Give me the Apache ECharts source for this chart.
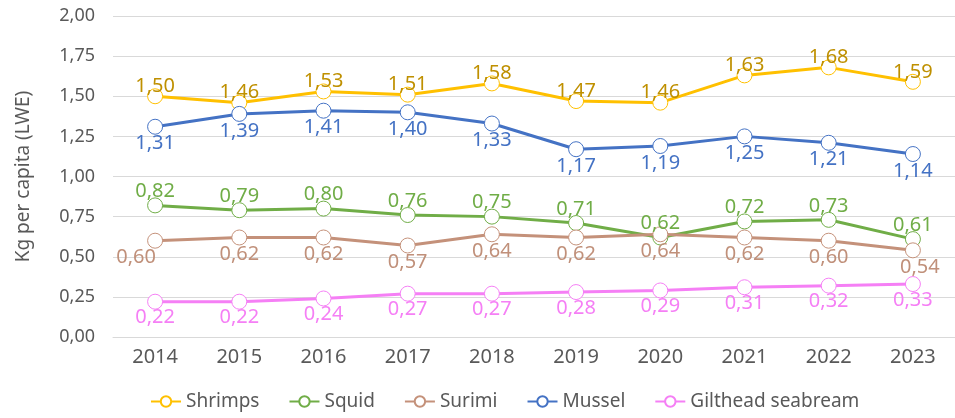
<!DOCTYPE html>
<html>
<head>
<meta charset="utf-8">
<script src="https://cdn.jsdelivr.net/npm/echarts@6/dist/echarts.min.js"></script>
<style>
  html, body { margin: 0; padding: 0; background: #fff; }
  #chart { width: 955px; height: 418px; }
</style>
</head>
<body>
<div id="chart"></div>
<script>
// 数据
const years = ['2014', '2015', '2016', '2017', '2018', '2019', '2020', '2021', '2022', '2023']
const shrimps = [1.50, 1.46, 1.53, 1.51, 1.58, 1.47, 1.46, 1.63, 1.68, 1.59]
const squid = [0.82, 0.79, 0.80, 0.76, 0.75, 0.71, 0.62, 0.72, 0.73, 0.61]
const surimi = [0.60, 0.62, 0.62, 0.57, 0.64, 0.62, 0.64, 0.62, 0.60, 0.54]
const mussel = [1.31, 1.39, 1.41, 1.40, 1.33, 1.17, 1.19, 1.25, 1.21, 1.14]
const seabream = [0.22, 0.22, 0.24, 0.27, 0.27, 0.28, 0.29, 0.31, 0.32, 0.33]

const FONT = 'Noto Sans'
const fmt = v => Number(v).toFixed(2).replace('.', ',')

// 个别标签的水平偏移（Excel 原图里有几处被挪开）
const makeSeries = (name, data, color, labelColor, pos, dist, offsets) => ({
  name: name,
  type: 'line',
  data: data.map((v, i) => (offsets && offsets[i])
    ? { value: v, label: { offset: offsets[i] } }
    : v),
  symbol: 'circle',
  symbolSize: 15,
  lineStyle: { width: 3, color: color },
  itemStyle: { color: '#fff', borderColor: color, borderWidth: 1 },
  label: {
    show: true,
    position: pos,
    distance: dist,
    color: labelColor,
    fontFamily: FONT,
    fontSize: 20,
    formatter: p => fmt(p.value)
  },
  emphasis: { disabled: true },
  animation: false
})

const chart = echarts.init(document.getElementById('chart'))
chart.setOption({
  animation: false,
  legend: {
    bottom: 2,
    left: 145,
    itemWidth: 30,
    itemHeight: 13,
    itemGap: 29,
    textStyle: { fontFamily: FONT, fontSize: 19, color: '#595959' },
    data: ['Shrimps', 'Squid', 'Surimi', 'Mussel', 'Gilthead seabream']
  },
  grid: { left: 113, right: -4, top: 16, bottom: 81 },
  xAxis: {
    type: 'category',
    data: years,
    axisLine: { show: true, lineStyle: { color: '#D9D9D9' } },
    axisTick: { show: false },
    axisLabel: { fontFamily: FONT, fontSize: 20, color: '#595959', margin: 10 }
  },
  yAxis: {
    type: 'value',
    min: 0,
    max: 2,
    interval: 0.25,
    name: 'Kg per capita (LWE)',
    nameLocation: 'middle',
    nameGap: 80,
    nameTextStyle: { fontFamily: FONT, fontSize: 19, color: '#595959' },
    axisLabel: { fontFamily: FONT, fontSize: 18, color: '#595959', margin: 18, formatter: fmt },
    splitLine: { lineStyle: { color: '#D9D9D9', width: 1 } }
  },
  series: [
    makeSeries('Shrimps', shrimps, '#FFC000', '#BF9000', 'top', -8),
    makeSeries('Squid', squid, '#70AD47', '#70AD47', 'top', -4),
    makeSeries('Surimi', surimi, '#C4917A', '#C0907A', 'bottom', -1, { 0: [-19, 0], 9: [7, 0] }),
    makeSeries('Mussel', mussel, '#4472C4', '#4472C4', 'bottom', -1),
    makeSeries('Gilthead seabream', seabream, '#F57FF5', '#F57FF5', 'bottom', -2)
  ]
})
</script>
</body>
</html>
